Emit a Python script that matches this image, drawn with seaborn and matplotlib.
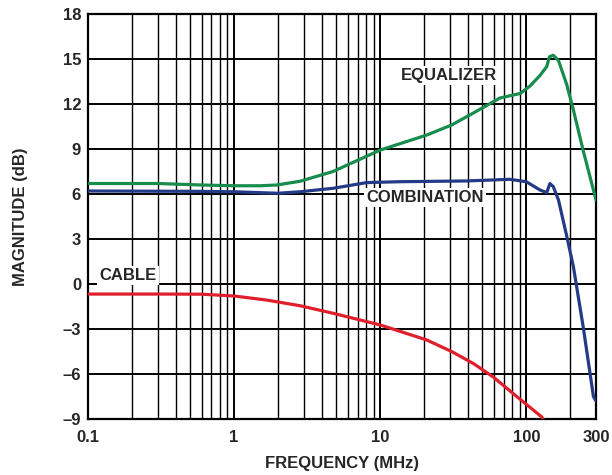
import numpy as np
import pandas as pd
import matplotlib
matplotlib.use("Agg")
import matplotlib.pyplot as plt
from matplotlib.ticker import FixedLocator, NullFormatter
import seaborn as sns

# values
eq_freq = [0.1, 0.3, 0.6, 1.0, 1.5, 1.96, 2.83, 4.75, 10, 20.8, 30.8, 43.4, 66, 90.6,
           106, 124, 138, 144, 153, 166, 189, 210, 245, 300]
eq_db = [6.7, 6.7, 6.6, 6.55, 6.55, 6.6, 6.85, 7.5, 8.93, 9.93, 10.6, 11.4, 12.4, 12.7,
         13.2, 13.9, 14.5, 15.15, 15.25, 14.9, 13.3, 11.6, 8.9, 5.6]

comb_freq = [0.1, 0.5, 1.0, 2.0, 2.83, 4.75, 8.07, 13.6, 39, 77, 100, 124, 138, 145,
             153, 166, 189, 210, 245, 288, 300]
comb_db = [6.2, 6.18, 6.15, 6.05, 6.15, 6.38, 6.76, 6.82, 6.87, 6.98, 6.82, 6.27, 6.09,
           6.7, 6.49, 5.6, 3.2, 1.15, -2.85, -7.5, -7.8]

cable_freq = [0.1, 0.3, 0.6, 1.0, 1.67, 2.83, 4.75, 10, 20.8, 30.8, 43.4, 59.4, 86, 127, 135]
cable_db = [-0.67, -0.67, -0.68, -0.8, -1.07, -1.45, -1.95, -2.73, -3.73, -4.5, -5.3,
            -6.2, -7.5, -8.85, -9.2]

x_ticks = [0.1, 1, 10, 100, 300]
x_tick_labels = ["0.1", "1", "10", "100", "300"]
y_ticks = list(range(-9, 19, 3))

sns.set_style("white")
plt.rcParams["font.family"] = ["Liberation Sans", "DejaVu Sans"]
plt.rcParams["font.weight"] = "bold"

fig, ax = plt.subplots(figsize=(6.12, 4.75), dpi=100)
fig.subplots_adjust(left=0.1438, right=0.9739, top=0.9705, bottom=0.1179)

eq = pd.DataFrame({"freq": eq_freq, "db": eq_db})
comb = pd.DataFrame({"freq": comb_freq, "db": comb_db})
cable = pd.DataFrame({"freq": cable_freq, "db": cable_db})

sns.lineplot(data=eq, x="freq", y="db", color="#188c4c", lw=2.3, ax=ax, zorder=5)
sns.lineplot(data=comb, x="freq", y="db", color="#233b86", lw=2.3, ax=ax, zorder=5)
sns.lineplot(data=cable, x="freq", y="db", color="#e01f2d", lw=2.3, ax=ax, zorder=5)

ax.set_xscale("log")
ax.set_xlim(0.1, 300)
ax.set_ylim(-9, 18)

minor = [m * d for d in (0.1, 1, 10, 100) for m in range(2, 10) if m * d < 300]
ax.xaxis.set_major_locator(FixedLocator(x_ticks))
ax.xaxis.set_minor_locator(FixedLocator(minor))
ax.xaxis.set_minor_formatter(NullFormatter())
ax.set_xticklabels(x_tick_labels)
ax.set_yticks(y_ticks)
ax.set_yticklabels([str(v).replace("-", "\u2013") for v in y_ticks])

ax.grid(True, which="major", color="black", lw=1.4)
ax.grid(True, which="minor", axis="x", color="black", lw=1.0)
ax.set_axisbelow(True)
for s in ax.spines.values():
    s.set_color("black")
    s.set_linewidth(1.6)

ax.tick_params(which="both", length=0, labelsize=12)
ax.tick_params(axis="x", pad=8)
ax.tick_params(axis="y", pad=5)
for lab in ax.get_xticklabels() + ax.get_yticklabels():
    lab.set_fontweight("bold")

ax.set_xlabel("FREQUENCY (MHz)", fontsize=12, fontweight="bold")
ax.set_ylabel("MAGNITUDE (dB)", fontsize=12, fontweight="bold")
ax.xaxis.set_label_coords(0.5, -0.091)
ax.yaxis.set_label_coords(-0.118, 0.5)

box = dict(facecolor="white", edgecolor="none", pad=1.5)
ax.text(29.6, 13.87, "EQUALIZER", fontsize=12, fontweight="bold", ha="center",
        va="center", bbox=box, zorder=4)
ax.text(20.3, 5.8, "COMBINATION", fontsize=12, fontweight="bold", ha="center",
        va="center", bbox=box, zorder=4)
ax.text(0.188, 0.6, "CABLE", fontsize=12, fontweight="bold", ha="center",
        va="center", bbox=box, zorder=4)

fig.savefig("out.png", dpi=100)
